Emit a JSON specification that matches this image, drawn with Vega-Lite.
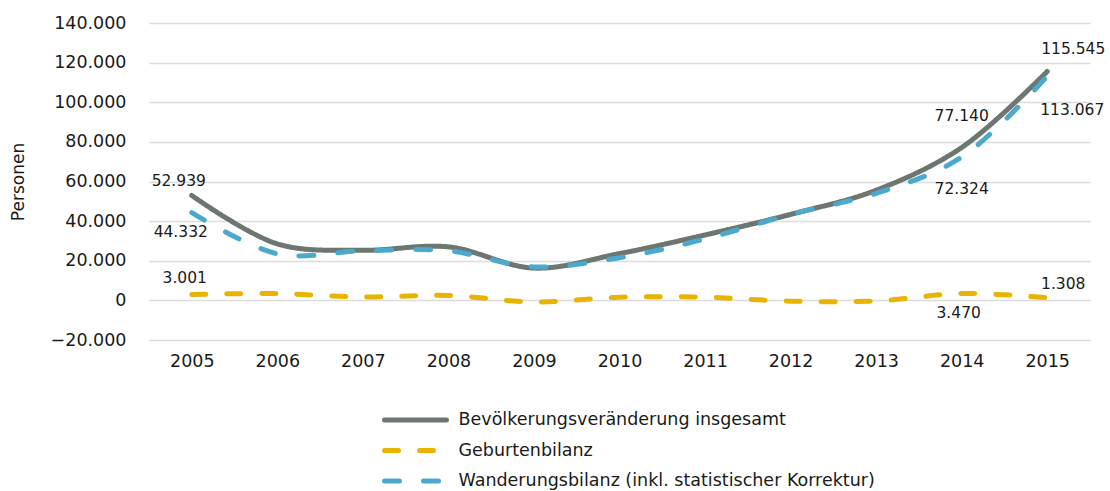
{
  "$schema": "https://vega.github.io/schema/vega-lite/v6.json",
  "width": 941,
  "height": 317,
  "autosize": {"type": "none"},
  "padding": {"left": 149, "top": 23, "right": 20, "bottom": 151},
  "background": "white",
  "config": {
    "locale": {"number": {"decimal": ",", "thousands": ".", "grouping": [3], "currency": ["", " €"], "minus": "−"}},
    "view": {"stroke": null},
    "font": "DejaVu Sans",
    "text": {"font": "DejaVu Sans", "fontSize": 15.5, "color": "#1a1a1a", "align": "center", "baseline": "middle"}
  },
  "data": {
    "values": [
      {"Jahr": 2005, "Reihe": "Bevölkerungsveränderung insgesamt", "Wert": 52939},
      {"Jahr": 2006, "Reihe": "Bevölkerungsveränderung insgesamt", "Wert": 28500},
      {"Jahr": 2007, "Reihe": "Bevölkerungsveränderung insgesamt", "Wert": 25300},
      {"Jahr": 2008, "Reihe": "Bevölkerungsveränderung insgesamt", "Wert": 27000},
      {"Jahr": 2009, "Reihe": "Bevölkerungsveränderung insgesamt", "Wert": 16300},
      {"Jahr": 2010, "Reihe": "Bevölkerungsveränderung insgesamt", "Wert": 23600},
      {"Jahr": 2011, "Reihe": "Bevölkerungsveränderung insgesamt", "Wert": 33000},
      {"Jahr": 2012, "Reihe": "Bevölkerungsveränderung insgesamt", "Wert": 43400},
      {"Jahr": 2013, "Reihe": "Bevölkerungsveränderung insgesamt", "Wert": 55600},
      {"Jahr": 2014, "Reihe": "Bevölkerungsveränderung insgesamt", "Wert": 77140},
      {"Jahr": 2015, "Reihe": "Bevölkerungsveränderung insgesamt", "Wert": 115545},
      {"Jahr": 2005, "Reihe": "Geburtenbilanz", "Wert": 3001},
      {"Jahr": 2006, "Reihe": "Geburtenbilanz", "Wert": 3400},
      {"Jahr": 2007, "Reihe": "Geburtenbilanz", "Wert": 1700},
      {"Jahr": 2008, "Reihe": "Geburtenbilanz", "Wert": 2500},
      {"Jahr": 2009, "Reihe": "Geburtenbilanz", "Wert": -800},
      {"Jahr": 2010, "Reihe": "Geburtenbilanz", "Wert": 1600},
      {"Jahr": 2011, "Reihe": "Geburtenbilanz", "Wert": 1600},
      {"Jahr": 2012, "Reihe": "Geburtenbilanz", "Wert": -400},
      {"Jahr": 2013, "Reihe": "Geburtenbilanz", "Wert": -300},
      {"Jahr": 2014, "Reihe": "Geburtenbilanz", "Wert": 3470},
      {"Jahr": 2015, "Reihe": "Geburtenbilanz", "Wert": 1308},
      {"Jahr": 2005, "Reihe": "Wanderungsbilanz (inkl. statistischer Korrektur)", "Wert": 44332},
      {"Jahr": 2006, "Reihe": "Wanderungsbilanz (inkl. statistischer Korrektur)", "Wert": 23500},
      {"Jahr": 2007, "Reihe": "Wanderungsbilanz (inkl. statistischer Korrektur)", "Wert": 25000},
      {"Jahr": 2008, "Reihe": "Wanderungsbilanz (inkl. statistischer Korrektur)", "Wert": 25000},
      {"Jahr": 2009, "Reihe": "Wanderungsbilanz (inkl. statistischer Korrektur)", "Wert": 16900},
      {"Jahr": 2010, "Reihe": "Wanderungsbilanz (inkl. statistischer Korrektur)", "Wert": 21500},
      {"Jahr": 2011, "Reihe": "Wanderungsbilanz (inkl. statistischer Korrektur)", "Wert": 31000},
      {"Jahr": 2012, "Reihe": "Wanderungsbilanz (inkl. statistischer Korrektur)", "Wert": 43400},
      {"Jahr": 2013, "Reihe": "Wanderungsbilanz (inkl. statistischer Korrektur)", "Wert": 54000},
      {"Jahr": 2014, "Reihe": "Wanderungsbilanz (inkl. statistischer Korrektur)", "Wert": 72324},
      {"Jahr": 2015, "Reihe": "Wanderungsbilanz (inkl. statistischer Korrektur)", "Wert": 113067}
    ]
  },
  "encoding": {
    "x": {
      "field": "Jahr", "type": "ordinal",
      "scale": {"type": "point", "padding": 0.5},
      "axis": {"title": null, "domain": false, "ticks": false, "labelAngle": 0, "labelFontSize": 17.5, "labelColor": "#1a1a1a", "labelPadding": 12, "grid": false}
    },
    "y": {
      "field": "Wert", "type": "quantitative",
      "scale": {"domain": [-20000, 140000], "nice": false, "zero": false},
      "axis": {
        "title": "Personen", "titleFontSize": 17, "titleFontWeight": "normal", "titleColor": "#1a1a1a", "titlePadding": 23,
        "values": [-20000, 0, 20000, 40000, 60000, 80000, 100000, 120000, 140000],
        "format": ",d", "domain": false, "ticks": false, "labelFontSize": 17.5, "labelColor": "#1a1a1a", "labelPadding": 23,
        "grid": true, "gridColor": "#dcdcdc", "gridWidth": 1.5
      }
    }
  },
  "layer": [
    {
      "mark": {"type": "line", "interpolate": "catmull-rom", "strokeWidth": 5, "strokeCap": "round"},
      "encoding": {
        "color": {
          "field": "Reihe", "type": "nominal",
          "scale": {"domain": ["Bevölkerungsveränderung insgesamt", "Geburtenbilanz", "Wanderungsbilanz (inkl. statistischer Korrektur)"], "range": ["#6b7770", "#e8b400", "#4ba9cd"]},
          "legend": {
            "title": null, "orient": "none", "legendX": 233, "legendY": 388, "direction": "vertical",
            "labelFontSize": 17.5, "labelColor": "#1a1a1a", "labelLimit": 600, "symbolType": "stroke", "symbolSize": 3844, "symbolStrokeWidth": 5,
            "labelOffset": 9.5, "rowPadding": 12.5, "clipHeight": 18,
            "encode": {"symbols": {"update": {"strokeCap": {"value": "round"}}}}
          }
        },
        "strokeDash": {
          "field": "Reihe", "type": "nominal",
          "scale": {"domain": ["Bevölkerungsveränderung insgesamt", "Geburtenbilanz", "Wanderungsbilanz (inkl. statistischer Korrektur)"], "range": [[1, 0], [14, 21], [15, 24]]},
          "legend": {
            "title": null, "orient": "none", "legendX": 233, "legendY": 388, "direction": "vertical",
            "labelFontSize": 17.5, "labelColor": "#1a1a1a", "labelLimit": 600, "symbolType": "stroke", "symbolSize": 3844, "symbolStrokeWidth": 5,
            "labelOffset": 9.5, "rowPadding": 12.5, "clipHeight": 18,
            "encode": {"symbols": {"update": {"strokeCap": {"value": "round"}}}}
          }
        }
      }
    },
    {
      "transform": [{"filter": "datum.Reihe === 'Bevölkerungsveränderung insgesamt' && datum.Jahr === 2005"}],
      "mark": {"type": "text", "dx": -13, "dy": -14},
      "encoding": {"text": {"field": "Wert", "type": "quantitative", "format": ","}}
    },
    {
      "transform": [{"filter": "datum.Reihe === 'Wanderungsbilanz (inkl. statistischer Korrektur)' && datum.Jahr === 2005"}],
      "mark": {"type": "text", "dx": -11, "dy": 19},
      "encoding": {"text": {"field": "Wert", "type": "quantitative", "format": ","}}
    },
    {
      "transform": [{"filter": "datum.Reihe === 'Geburtenbilanz' && datum.Jahr === 2005"}],
      "mark": {"type": "text", "dx": -7, "dy": -16},
      "encoding": {"text": {"field": "Wert", "type": "quantitative", "format": ","}}
    },
    {
      "transform": [{"filter": "datum.Reihe === 'Bevölkerungsveränderung insgesamt' && datum.Jahr === 2014"}],
      "mark": {"type": "text", "dx": 0, "dy": -32},
      "encoding": {"text": {"field": "Wert", "type": "quantitative", "format": ","}}
    },
    {
      "transform": [{"filter": "datum.Reihe === 'Wanderungsbilanz (inkl. statistischer Korrektur)' && datum.Jahr === 2014"}],
      "mark": {"type": "text", "dx": 0, "dy": 32},
      "encoding": {"text": {"field": "Wert", "type": "quantitative", "format": ","}}
    },
    {
      "transform": [{"filter": "datum.Reihe === 'Geburtenbilanz' && datum.Jahr === 2014"}],
      "mark": {"type": "text", "dx": -3, "dy": 19},
      "encoding": {"text": {"field": "Wert", "type": "quantitative", "format": ","}}
    },
    {
      "transform": [{"filter": "datum.Reihe === 'Bevölkerungsveränderung insgesamt' && datum.Jahr === 2015"}],
      "mark": {"type": "text", "dx": 26, "dy": -22},
      "encoding": {"text": {"field": "Wert", "type": "quantitative", "format": ","}}
    },
    {
      "transform": [{"filter": "datum.Reihe === 'Wanderungsbilanz (inkl. statistischer Korrektur)' && datum.Jahr === 2015"}],
      "mark": {"type": "text", "dx": 25, "dy": 34},
      "encoding": {"text": {"field": "Wert", "type": "quantitative", "format": ","}}
    },
    {
      "transform": [{"filter": "datum.Reihe === 'Geburtenbilanz' && datum.Jahr === 2015"}],
      "mark": {"type": "text", "dx": 16, "dy": -14},
      "encoding": {"text": {"field": "Wert", "type": "quantitative", "format": ","}}
    }
  ]
}
